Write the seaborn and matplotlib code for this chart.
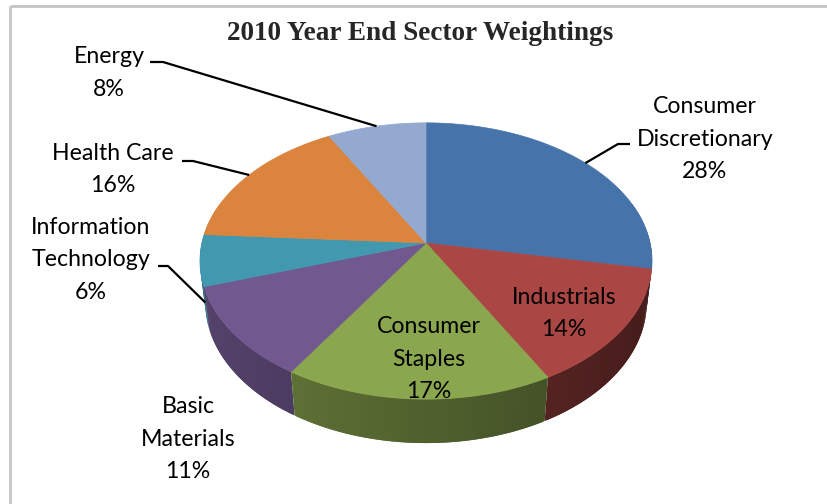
import numpy as np
import matplotlib
matplotlib.use("Agg")
import matplotlib.pyplot as plt
import seaborn as sns
from matplotlib.patches import Polygon
from matplotlib.colors import to_rgb

# ---------------- data ----------------
title = "2010 Year End Sector Weightings"
categories = ["Consumer Discretionary", "Industrials", "Consumer Staples",
              "Basic Materials", "Information Technology", "Health Care", "Energy"]
weights = [28, 14, 17, 11, 6, 16, 8]
label_lines = [["Consumer", "Discretionary"], ["Industrials"], ["Consumer", "Staples"],
               ["Basic", "Materials"], ["Information", "Technology"], ["Health Care"], ["Energy"]]
slice_colors = ["#4674AA", "#AA4643", "#8AA64E", "#71588F", "#4198AF", "#DB843D", "#93A9CF"]

# ---------------- layout / style ----------------
W, H_PX = 828, 504
sns.set_theme(style="white")
plt.rcParams["font.family"] = ["Lato", "DejaVu Sans"]

fig = plt.figure(figsize=(W / 100, H_PX / 100), dpi=100)
ax = fig.add_axes([0, 0, 1, 1])
ax.set_xlim(0, W)
ax.set_ylim(H_PX, 0)
ax.axis("off")

# perspective parameters for the 3D disk
ELEV = np.radians(37.3)
S, C = np.sin(ELEV), np.cos(ELEV)
DIST, FOC = 6.10, 1367.0
CX, CY = 426.0, 243.0
THICK = 0.241


def proj(theta, r=1.0, z=0.0):
    t = np.radians(theta)
    X = r * np.sin(t)
    Y = r * np.cos(t)
    up = Y * S + z * C
    depth = DIST + Y * C - z * S
    return CX + FOC * X / depth, CY - FOC * up / depth


vals = np.array(weights, dtype=float)
bounds = np.concatenate([[0], np.cumsum(vals) / vals.sum() * 360.0])

# side walls (drawn far-to-near, then top faces cover the back)
STEP, OVER = 1.0, 0.5
segs = []
for i in range(len(vals)):
    a0, a1 = bounds[i], bounds[i + 1]
    n = max(2, int(np.ceil((a1 - a0) / STEP)))
    ts = np.linspace(a0, a1, n + 1)
    for t0, t1 in zip(ts[:-1], ts[1:]):
        tm = 0.5 * (t0 + t1)
        if np.cos(np.radians(tm)) > 0.3:
            continue
        segs.append((np.cos(np.radians(tm)), i, max(a0, t0 - OVER), min(a1, t1 + OVER), tm))
segs.sort(key=lambda s: -s[0])
for _, i, t0, t1, tm in segs:
    base = np.array(to_rgb(slice_colors[i]))
    f = 0.58 - 0.18 * np.sin(np.radians(tm))
    col = np.clip(base * f, 0, 1)
    tt_ = np.linspace(t0, t1, 4)
    pts = [proj(t) for t in tt_] + [proj(t, z=-THICK) for t in tt_[::-1]]
    ax.add_patch(Polygon(pts, closed=True, facecolor=col, edgecolor="none", lw=0, zorder=2))

# top faces
for i in range(len(vals)):
    a0, a1 = bounds[i], bounds[i + 1]
    ts = np.linspace(a0, a1, 120)
    pts = [(CX, CY)] + [proj(t) for t in ts]
    ax.add_patch(Polygon(pts, closed=True, facecolor=slice_colors[i],
                         edgecolor=slice_colors[i], lw=0.5, zorder=3))

# ---------------- labels ----------------
# (x center, first baseline) for each category, line step in px
label_pos = [(705, 113), (564, 304), (429, 333), (188, 413), (91, 234), (113, 160), (109, 63)]
LINE = 32.5
# leader lines: (text-side start, elbow) and anchor z offset
leaders = {0: ((630, 144), (618, 144), 0.0),
           4: ((158, 266), (168, 266), -THICK),
           5: ((182, 161), (193, 161), 0.0),
           6: ((150, 62), (163, 62), 0.0)}

# fit label font size to reference width of "Discretionary" (~137 px)
renderer = fig.canvas.get_renderer()
probe = ax.text(0, 0, "Discretionary", fontsize=16)
wpx = probe.get_window_extent(renderer).width
probe.remove()
lab_fs = 16 * 137.0 / wpx

for i, lines in enumerate(label_lines):
    x, y0 = label_pos[i]
    all_lines = lines + [f"{weights[i]:.0f}%"]
    for k, s in enumerate(all_lines):
        ax.text(x, y0 + k * LINE, s, ha="center", va="baseline",
                fontsize=lab_fs, color="black", zorder=5)

for i, (p0, p1, zoff) in leaders.items():
    mid = 0.5 * (bounds[i] + bounds[i + 1])
    ax_, ay_ = proj(mid, z=zoff)
    ax.plot([p0[0], p1[0], ax_], [p0[1], p1[1], ay_], color="black", lw=1.6,
            solid_capstyle="butt", zorder=4)

# title
tt = ax.text(420, 40, title, ha="center", va="baseline", fontsize=18,
             fontweight="bold", family=["Liberation Serif", "DejaVu Serif"], zorder=5)
tw = tt.get_window_extent(renderer).width
tt.set_fontsize(18 * 386.0 / tw)

# chart-area border (top and left visible)
ax.plot([10, W], [6, 6], color="#C4C4C4", lw=2, zorder=1, solid_capstyle="butt")
ax.plot([10, 10], [6, H_PX], color="#C4C4C4", lw=2, zorder=1, solid_capstyle="butt")

fig.savefig("out.png", dpi=100, facecolor="white")
